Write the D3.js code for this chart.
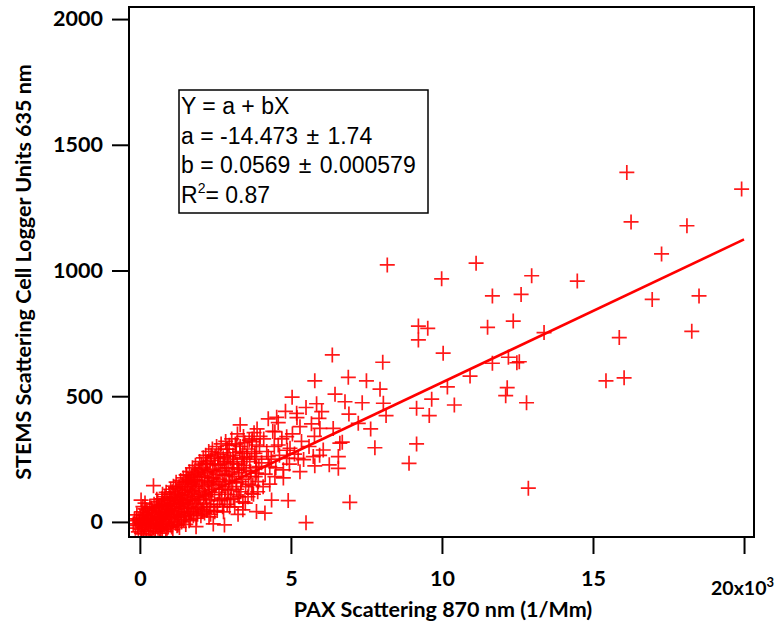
<!DOCTYPE html>
<html>
<head>
<meta charset="utf-8">
<script src="https://cdn.jsdelivr.net/npm/d3@7"></script>
<style>
  body { margin: 0; background: #fff; }
  svg { display: block; }
</style>
</head>
<body>
<div id="chart"></div>
<script>
// PAX (x, in 10^3 1/Mm) vs STEMS (y) -- spread points
const spreadPoints = [
  [16.12,1390],[19.92,1324],[16.26,1193],[18.11,1178],[17.27,1066],[16.96,885],[18.51,899],[15.87,733],[18.27,758],[14.48,958],
  [11.13,1029],[9.99,967],[12.97,979],[11.67,899],[12.62,905],[9.22,779],[9.53,770],[9.22,724],[11.51,774],[12.36,799],
  [13.38,753],[10.04,671],[11.67,631],[12.2,655],[12.56,637],[12.48,633],[10.93,580],[10.18,537],[9.66,488],[9.16,452],
  [9.58,423],[10.41,465],[12.16,534],[12.11,502],[12.8,474],[9.16,310],[8.91,233],[12.86,134],[15.43,561],[16.03,573],
  [8.19,1022],[6.37,664],[8.04,635],[5.79,561],[6.9,575],[7.5,561],[7.95,528],[6.46,508],[7.36,474],[8.06,472],
  [6.79,478],[8.15,423],[6.92,429],[7.23,392],[7.64,370],[6.7,317],[6.57,260],[6.57,213],[7.78,295],[6.95,78],
  [5.04,496],[4.53,416],[5.19,432],[6.02,439],[5.93,412],[5.3,379],[5.96,372],[6.4,372],[4.47,359],[4.86,339],
  [6.62,313],[3.86,306],[4.58,306],[4.97,293],[6.07,286],[5.74,260],[3.81,273],[4.25,260],[4.86,253],[5.24,253],
  [5.79,223],[6.27,227],[4.3,220],[4.75,207],[5.3,200],[3.86,194],[4.47,180],[4.08,140],[3.7,114],[4.36,87],
  [4.91,85],[3.86,41],[4.14,35],[5.5,-3],[3.32,386],[3.71,319],[2.91,289],[3.19,306],[3.41,273],[2.58,253],
  [2.2,233],[2.8,240],[3.08,233],[1.53,187],[1.59,160],[0.45,144],[3.25,107],[3.41,48],[1.26,-12],[1.86,-19],
  [2.8,-12],[0.1,61],[0.04,87],[0.17,75]
];

// the dense band near the origin
const clusterPoints = [
  [-0.22,-8],[-0.18,12],[-0.15,-25],[-0.12,5],[-0.1,28],[-0.08,-14],[-0.05,-40],[-0.03,10],[0,-2],[0.02,18],
  [0.04,-30],[0.06,40],[0.08,-12],[0.1,5],[0.12,-48],[0.13,25],[0.15,-20],[0.17,52],[0.19,0],[0.21,-35],
  [0.23,14],[0.25,36],[0.27,-10],[0.29,-52],[0.31,22],[0.33,60],[0.35,-5],[0.37,8],[0.39,-28],[0.41,44],
  [0.43,30],[0.45,-18],[0.47,70],[0.49,2],
  [0.51,-40],[0.52,25],[0.54,58],[0.55,-8],[0.57,12],[0.59,80],[0.6,-25],[0.62,40],[0.63,5],[0.65,-45],
  [0.66,66],[0.68,20],[0.7,-10],[0.71,48],[0.73,92],[0.74,-30],[0.76,30],[0.77,10],[0.79,75],[0.8,-15],
  [0.82,55],[0.83,100],[0.85,22],[0.86,-38],[0.88,64],[0.89,0],[0.91,38],[0.92,85],[0.94,-20],[0.95,50],
  [0.97,110],[0.98,15],[1.0,70],
  [1.01,-12],[1.03,45],[1.04,90],[1.06,28],[1.07,120],[1.09,-30],[1.1,60],[1.12,8],[1.13,100],[1.15,72],
  [1.16,35],[1.18,135],[1.19,-5],[1.21,82],[1.22,50],[1.24,115],[1.25,18],[1.27,95],[1.28,62],[1.3,140],
  [1.31,-22],[1.33,40],[1.34,105],[1.36,78],[1.37,25],[1.39,125],[1.4,55],[1.42,150],[1.43,88],[1.45,10],
  [1.46,68],[1.48,118],[1.49,42],
  [1.51,98],[1.53,160],[1.54,30],[1.56,75],[1.57,128],[1.59,55],[1.6,170],[1.62,92],[1.63,5],[1.65,140],
  [1.66,62],[1.68,110],[1.7,180],[1.71,35],[1.73,85],[1.75,150],[1.76,120],[1.78,48],[1.8,195],[1.81,100],
  [1.83,70],[1.85,165],[1.86,132],[1.88,15],[1.9,88],[1.92,178],[1.93,115],[1.95,58],[1.97,145],[1.99,205],
  [2.01,92],[2.03,160],[2.05,40],[2.07,125],[2.09,215],[2.11,75],[2.13,180],[2.15,140],[2.17,105],[2.19,230],
  [2.21,60],[2.23,165],[2.25,195],[2.27,120],[2.29,20],[2.31,150],[2.33,245],[2.35,88],[2.37,175],[2.39,130],
  [2.41,210],[2.43,-8],[2.45,160],[2.47,108],[2.49,260],
  [2.52,145],[2.55,190],[2.57,70],[2.6,225],[2.62,118],[2.65,170],[2.67,275],[2.7,95],[2.72,205],[2.75,150],
  [2.77,40],[2.8,240],[2.82,130],[2.85,185],[2.87,290],[2.9,110],[2.92,215],[2.95,165],[2.97,60],[2.99,250],
  [3.02,140],[3.05,200],[3.08,265],[3.1,95],[3.13,180],[3.16,310],[3.19,155],[3.22,230],[3.25,30],[3.28,195],
  [3.31,280],[3.34,120],[3.37,215],[3.4,170],[3.43,340],[3.46,250],[3.49,75],
  [3.52,205],[3.56,290],[3.6,150],[3.64,240],[3.68,180],[3.72,330],[3.76,110],[3.8,260],[3.84,215],[3.88,370],
  [3.92,160],[3.96,300],
  [4.03,235],[4.1,330],[4.15,190],[4.2,280],[4.25,410],[4.3,150],[4.35,250],[4.4,360],[4.45,300],[4.5,215],
  [4.58,395],[4.62,265],[4.7,330],[4.75,175],[4.82,440],[4.88,285],[4.95,230],
  [5.05,350],[5.12,270],[5.2,415],[5.35,320],[5.42,248],[5.5,455],[5.6,300],[5.68,390],[5.78,340],[5.85,470],
  [5.95,265]
];

// more of the band, filling out its width
const clusterFill = [
  [0.05,-45],[0.11,30],[0.16,-5],[0.22,48],[0.28,15],[0.34,-38],[0.38,55],[0.44,-22],[0.48,35],[0.53,-15],
  [0.56,90],[0.61,62],[0.64,18],[0.69,-32],[0.72,70],[0.75,110],[0.78,-5],[0.81,88],[0.84,38],[0.87,118],
  [0.9,-25],[0.93,65],[0.96,28],[0.99,95],
  [1.02,130],[1.05,-20],[1.08,75],[1.11,142],[1.14,20],[1.17,98],[1.2,158],[1.23,-15],[1.26,132],[1.29,30],
  [1.32,85],[1.35,165],[1.38,0],[1.41,110],[1.44,175],[1.47,20],[1.5,140],[1.52,-10],[1.55,185],[1.58,105],
  [1.61,40],[1.64,200],[1.67,10],[1.69,155],[1.72,125],[1.74,215],[1.77,25],[1.79,168],[1.82,140],[1.84,225],
  [1.87,55],[1.89,190],[1.91,30],[1.94,210],[1.96,100],[1.98,240],
  [2.02,25],[2.04,230],[2.06,185],[2.08,50],[2.1,255],[2.12,110],[2.14,35],[2.16,200],[2.18,265],[2.2,100],
  [2.22,45],[2.24,240],[2.26,155],[2.28,280],[2.3,70],[2.32,205],[2.34,30],[2.36,265],[2.38,110],[2.4,290],
  [2.42,175],[2.44,60],[2.46,230],[2.48,40],[2.51,200],[2.54,300],[2.56,45],[2.59,160],[2.61,270],[2.64,85],
  [2.66,230],[2.69,310],[2.71,130],[2.74,60],[2.76,255],[2.79,185],[2.81,90],[2.84,320],[2.86,215],[2.89,70],
  [2.91,260],[2.94,125],[2.96,305],[2.98,190],
  [3.01,90],[3.04,330],[3.07,160],[3.11,240],[3.14,60],[3.17,275],[3.2,130],[3.23,350],[3.26,210],[3.29,100],
  [3.32,300],[3.35,160],[3.38,255],[3.41,80],[3.44,225],[3.47,315],[3.5,140],[3.54,260],[3.58,100],[3.62,325],
  [3.66,200],[3.7,280],[3.74,145],[3.78,355],[3.82,180],[3.86,250],[3.9,120],[3.94,220],[3.98,340]
];

// linear fit shown in the box (x in raw 1/Mm units)
const fitA = -14.473;
const fitB = 0.0569;
const fitRange = [0, 20];

const xTicks = [0, 5, 10, 15, 20];
const yTicks = [0, 500, 1000, 1500, 2000];
const fitLines = [['Y = a + bX'], ['a = -14.473', '\u00b1', '1.74'], ['b = 0.0569', '\u00b1', '0.000579']];
const rSquared = '0.87';

const width = 777;
const height = 628;
const frame = { left: 129, right: 754, top: 7, bottom: 537 };
const axisFont = 'Lato, "Open Sans", sans-serif';
const axisSize = '21.5px';

const svg = d3.select('#chart').append('svg')
    .attr('width', width)
    .attr('height', height);

const x = d3.scaleLinear([-0.36, 20.33], [frame.left, frame.right]);
const y = d3.scaleLinear([-60, 2048], [frame.bottom, frame.top]);

svg.append('defs').append('clipPath')
    .attr('id', 'plot-clip')
  .append('rect')
    .attr('x', frame.left)
    .attr('y', frame.top)
    .attr('width', frame.right - frame.left)
    .attr('height', frame.bottom - frame.top);

drawPoints();
drawFit();
drawFrame();
drawAxes();
drawFitBox();

function drawPoints() {
  const g = svg.append('g').attr('clip-path', 'url(#plot-clip)');
  const cross = 'M-7.5,0H7.5M0,-7.5V7.5';
  g.selectAll('path.pt')
    .data(clusterPoints.concat(clusterFill, spreadPoints))
    .join('path')
      .attr('class', 'pt')
      .attr('d', cross)
      .attr('transform', d => `translate(${x(d[0])},${y(d[1])})`)
      .attr('fill', 'none')
      .attr('stroke', '#ff0000')
      .attr('stroke-width', 1.7)
      .attr('stroke-opacity', 0.9);
}

function drawFit() {
  const line = d3.line()
      .x(d => x(d))
      .y(d => y(fitA + fitB * d * 1000));
  svg.append('path')
      .datum(fitRange)
      .attr('d', line)
      .attr('fill', 'none')
      .attr('stroke', '#ff0000')
      .attr('stroke-width', 2.6);
}

function drawFrame() {
  svg.append('rect')
      .attr('x', frame.left)
      .attr('y', frame.top)
      .attr('width', frame.right - frame.left)
      .attr('height', frame.bottom - frame.top)
      .attr('fill', 'none')
      .attr('stroke', '#000')
      .attr('stroke-width', 2);
}

function drawAxes() {
  const yAxis = d3.axisLeft(y).tickValues(yTicks).tickSize(17).tickPadding(9).tickFormat(d => d);
  const gy = svg.append('g')
      .attr('transform', `translate(${frame.left},0)`)
      .call(yAxis);

  const xAxis = d3.axisBottom(x).tickValues(xTicks).tickSize(17).tickPadding(17).tickFormat(d => d);
  const gx = svg.append('g')
      .attr('transform', `translate(0,${frame.bottom})`)
      .call(xAxis);

  [gx, gy].forEach(g => {
    g.select('.domain').remove();
    g.selectAll('.tick line').attr('stroke', '#000').attr('stroke-width', 2);
    g.selectAll('.tick text')
        .attr('fill', '#000')
        .style('font-family', axisFont)
        .style('font-weight', 700)
        .style('font-size', axisSize);
  });

  // last x label is written as 20x10^3, a bit lower like the original
  gx.selectAll('.tick text')
      .filter(d => d === 20)
      .text(null)
      .attr('dy', '1.25em')
      .attr('dx', -2)
      .style('font-size', '19.5px')
      .call(t => {
        t.append('tspan').text('20x10');
        t.append('tspan').text('3').attr('dy', '-0.65em').style('font-size', '13px');
      });

  svg.append('text')
      .text('PAX Scattering 870 nm (1/Mm)')
      .attr('x', 443)
      .attr('y', 617)
      .attr('text-anchor', 'middle')
      .style('font-family', axisFont)
      .style('font-weight', 700)
      .style('font-size', axisSize);

  svg.append('text')
      .text('STEMS Scattering Cell Logger Units 635 nm')
      .attr('transform', 'translate(31,272) rotate(-90)')
      .attr('text-anchor', 'middle')
      .style('font-family', axisFont)
      .style('font-weight', 700)
      .style('font-size', axisSize);
}

function drawFitBox() {
  const box = svg.append('g');
  box.append('rect')
      .attr('x', 179)
      .attr('y', 90)
      .attr('width', 249)
      .attr('height', 123)
      .attr('fill', '#fff')
      .attr('stroke', '#000')
      .attr('stroke-width', 1.5);

  const textStyle = s => s
      .style('font-family', '"Liberation Sans", Arial, sans-serif')
      .style('font-size', '23px')
      .attr('fill', '#000');

  fitLines.forEach((parts, i) => {
    const t = box.append('text')
        .attr('x', 181)
        .attr('y', 114 + i * 29.5)
        .call(textStyle);
    parts.forEach((p, j) => {
      t.append('tspan').text(j === 0 ? p : ' ' + p).attr('dx', j === 0 ? 0 : 2);
    });
  });

  const r2 = box.append('text')
      .attr('x', 181)
      .attr('y', 203)
      .call(textStyle);
  r2.append('tspan').text('R');
  r2.append('tspan').text('2').attr('dy', '-10').style('font-size', '14px');
  r2.append('tspan').text('= ' + rSquared).attr('dy', '10');
}
</script>
</body>
</html>
